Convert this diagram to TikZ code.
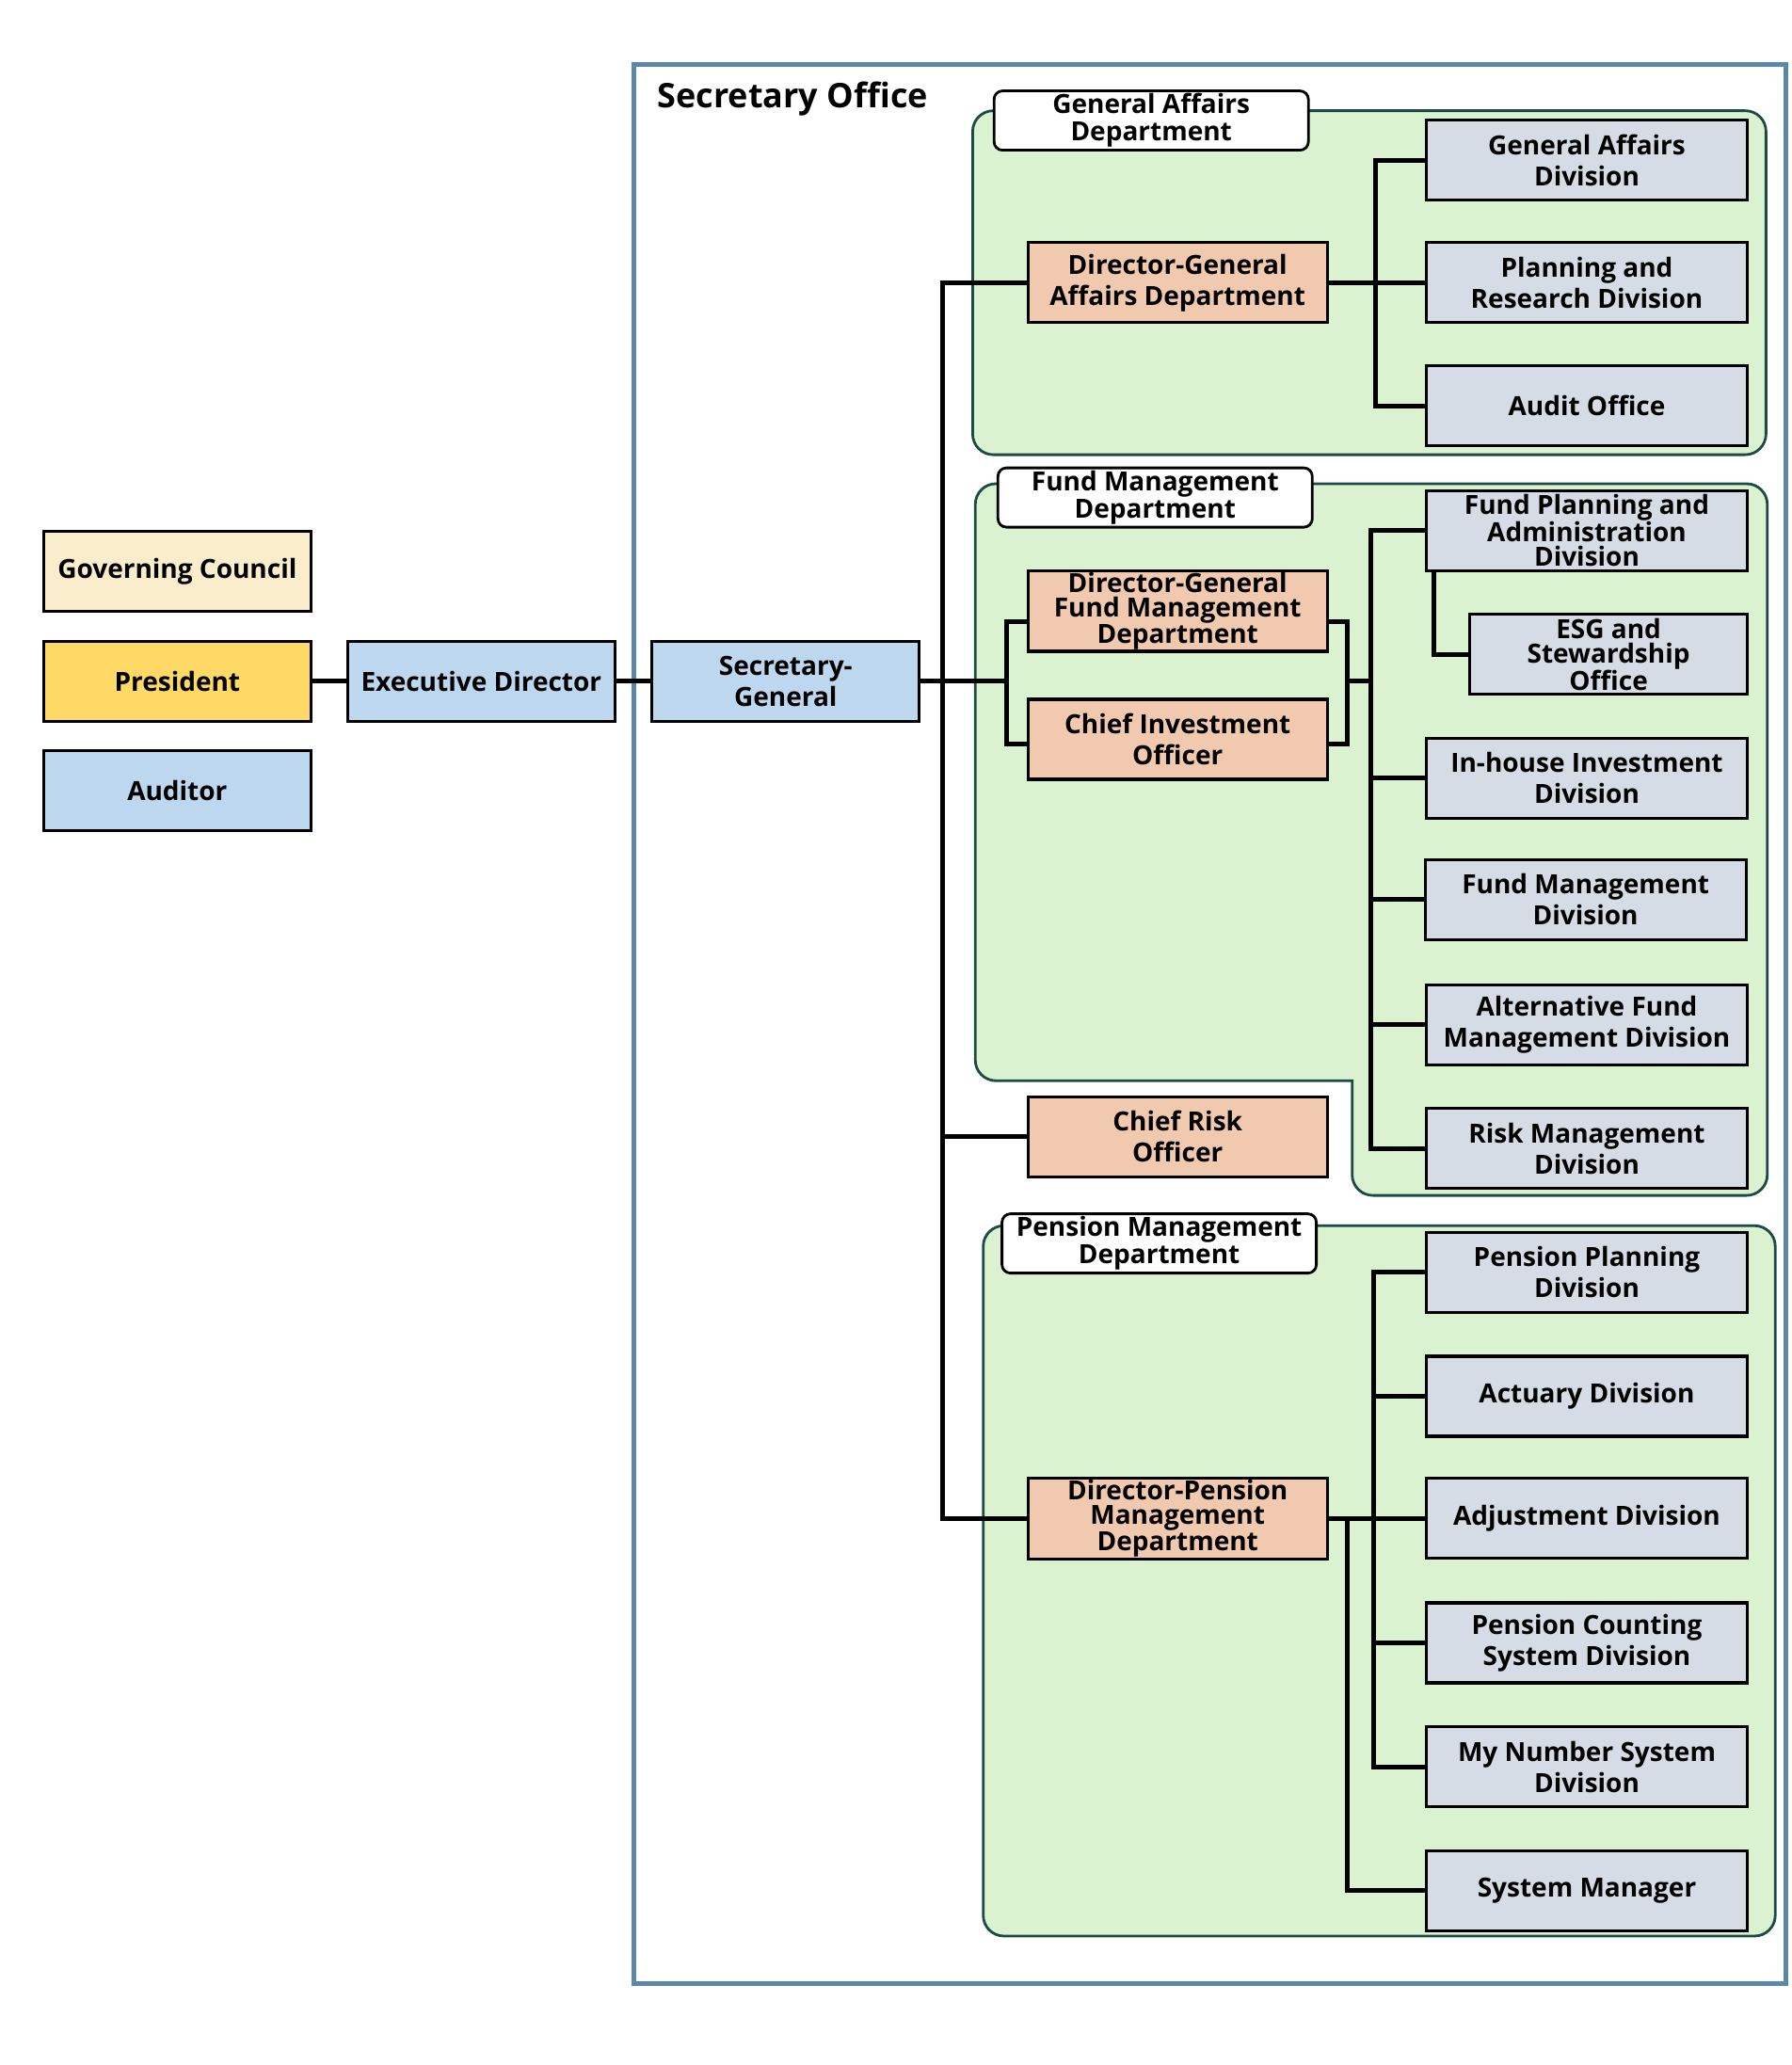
\documentclass[tikz,border=0pt]{standalone}
\usepackage{fontspec}
\setmainfont{Open Sans}
\definecolor{officeblue}{HTML}{5B87A9}
\definecolor{deptgreen}{HTML}{DAF2D0}
\definecolor{deptline}{HTML}{1B4A47}
\definecolor{divgray}{HTML}{D6DCE5}
\definecolor{headsalmon}{HTML}{F1C9AE}
\definecolor{staffblue}{HTML}{BDD7EE}
\definecolor{presyellow}{HTML}{FFD966}
\definecolor{councilcream}{HTML}{FAEDCB}
\begin{document}
\begin{tikzpicture}[x=1.0046pt, y=-1.0046pt,
    unit/.style={draw=black, line width=3.2pt, minimum height=85pt, inner sep=2pt, align=center,
      font=\bfseries\fontsize{28}{33}\selectfont},
    topbox/.style={unit, minimum width=284pt},
    headbox/.style={unit, fill=headsalmon, minimum width=318pt},
    divbox/.style={unit, fill=divgray, minimum width=341pt},
    tight/.style={font=\bfseries\fontsize{28}{26}\selectfont},
    tag/.style={draw=black, fill=white, line width=2.8pt, rounded corners=9pt, minimum width=334pt,
      minimum height=63pt, inner sep=1pt, align=center, font=\bfseries\fontsize{28}{29}\selectfont},
    dept/.style={draw=deptline, fill=deptgreen, line width=2.8pt, rounded corners=22pt},
    wire/.style={line width=5pt}]
    \useasboundingbox (0,0) rectangle (1895.3,2184);
    % secretary office frame and departments
    \draw[officeblue, line width=4.5pt] (670.5,68.3) rectangle (1888.7,2097.8);
    \node[anchor=west, font=\bfseries\fontsize{36}{40}\selectfont] (title) at (692,104.5) {Secretary Office};
    \draw[dept] (1028.7,117.1) rectangle (1867.8,480.9);
    \draw[dept] (1031.5,511.6) -- (1869.2,511.6) -- (1869.2,1264.3) -- (1430.1,1264.3)
        [sharp corners] -- (1430.1,1143) [rounded corners=22pt] -- (1031.5,1143) -- cycle;
    \draw[dept] (1039.9,1296.3) rectangle (1877.6,2047.6);
    % top of the organisation
    \node[topbox, fill=councilcream] (council) at (187.5,604.3) {Governing Council};
    \node[topbox, fill=presyellow] (president) at (187.5,720.6) {President};
    \node[topbox, fill=staffblue] (auditor) at (187.5,836.3) {Auditor};
    \node[topbox, fill=staffblue] (execdir) at (509,720.6) {Executive Director};
    \node[topbox, fill=staffblue] (secgen) at (831,720.6) {Secretary-\\General};
    % department tags
    \node[tag] (gatag) at (1217.6,127.5) {General Affairs\\Department};
    \node[tag] (fmtag) at (1221.7,526.2) {Fund Management\\Department};
    \node[tag] (pmtag) at (1226,1315.1) {Pension Management\\Department};
    % heads
    \node[headbox] (dgga) at (1245.5,299) {Director-General\\Affairs Department};
    \node[headbox, tight] (dgfm) at (1245.5,646.1) {Director-General\\Fund Management\\Department};
    \node[headbox] (cio) at (1245.5,782) {Chief Investment\\Officer};
    \node[headbox] (cro) at (1245.5,1202.2) {Chief Risk\\Officer};
    \node[headbox, tight] (dgpm) at (1245.5,1606) {Director-Pension\\Management\\Department};
    % divisions
    \node[divbox] (gadiv) at (1678.3,169.4) {General Affairs\\Division};
    \node[divbox] (planres) at (1678.3,299) {Planning and\\Research Division};
    \node[divbox] (auditoff) at (1678.3,429.3) {Audit Office};
    \node[divbox, tight] (fpa) at (1678.3,561.1) {Fund Planning and\\Administration\\Division};
    \node[divbox, tight, minimum width=295pt] (esg) at (1701.3,692.1) {ESG and\\Stewardship\\Office};
    \node[divbox] (inhouse) at (1678.3,823.1) {In-house Investment\\Division};
    \node[divbox] (fmdiv) at (1677,951.3) {Fund Management\\Division};
    \node[divbox] (altfund) at (1678.3,1083.8) {Alternative Fund\\Management Division};
    \node[divbox] (riskdiv) at (1678.3,1214.8) {Risk Management\\Division};
    \node[divbox] (pplan) at (1678.3,1345.8) {Pension Planning\\Division};
    \node[divbox] (actuary) at (1678.3,1476.8) {Actuary Division};
    \node[divbox] (adjust) at (1678.3,1606) {Adjustment Division};
    \node[divbox] (pcount) at (1678.3,1737.5) {Pension Counting\\System Division};
    \node[divbox] (mynum) at (1678.3,1868.5) {My Number System\\Division};
    \node[divbox] (sysmgr) at (1678.3,1999.6) {System Manager};
    % connectors
    \coordinate (lbr) at (1065,720.6);
    \coordinate (rbr) at (1424.6,720.6);
    \draw[wire] (president) -- (execdir);
    \draw[wire] (execdir) -- (secgen);
    \draw[wire] (secgen.east) -- (lbr);
    \draw[wire] (dgga.west) -- ++(-89,0) |- (dgpm.west);
    \draw[wire] (cro.west) -- ++(-89,0);
    \draw[wire] ([yshift=-11pt]dgfm.west) -| (lbr) |- ([yshift=-5pt]cio.west);
    \draw[wire] ([yshift=-11pt]dgfm.east) -| (rbr) |- ([yshift=-5pt]cio.east);
    \draw[wire] (rbr) -- ++(27,0);
    % general affairs
    \draw[wire] (dgga.east) -- (planres.west);
    \draw[wire] (gadiv.west) -- ++(-52,0) |- (auditoff.west);
    % fund management
    \draw[wire] (fpa.west) -- ++(-57,0) |- (riskdiv.west);
    \foreach \d in {inhouse,fmdiv,altfund}
        \draw[wire] (\d.west) -- ++(-57,0);
    \draw[wire] ([xshift=10pt]fpa.south west) |- (esg.west);
    % pension management
    \draw[wire] (dgpm.east) -- (adjust.west);
    \draw[wire] (pplan.west) -- ++(-54.4,0) |- (mynum.west);
    \foreach \d in {actuary,pcount}
        \draw[wire] (\d.west) -- ++(-54.4,0);
    \draw[wire] ([xshift=19.5pt]dgpm.east) |- (sysmgr.west);
\end{tikzpicture}
\end{document}
